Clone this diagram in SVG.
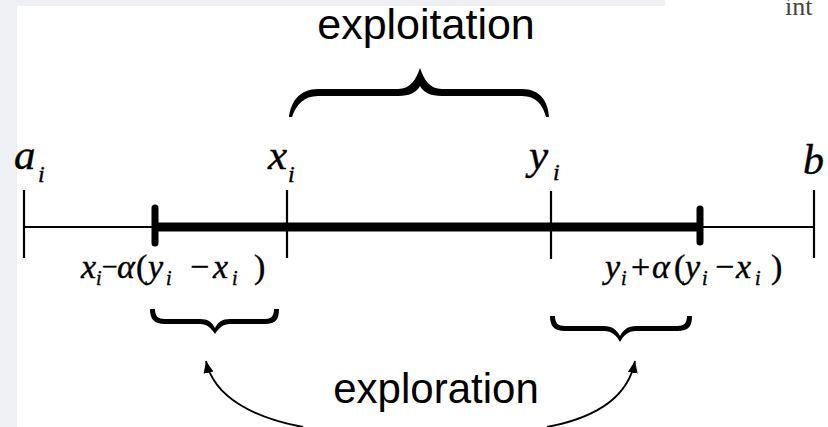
<svg xmlns="http://www.w3.org/2000/svg" width="828" height="427" viewBox="0 0 828 427">
<defs>
<style>
.m{font-family:"Liberation Serif","Times New Roman",serif;font-style:italic;fill:#000;stroke:#000;stroke-width:0.4}
.n{font-family:"Liberation Serif","Times New Roman",serif;fill:#000;stroke:#000;stroke-width:0.4}
.s{font-family:"Liberation Sans",Arial,sans-serif;fill:#000;text-anchor:middle}
.thin{stroke:#000;stroke-width:2.2;fill:none}
.thick{stroke:#000;stroke-width:9;fill:none}
.cap{stroke:#000;stroke-width:7;stroke-linecap:round;fill:none}
.arc{stroke:#000;stroke-width:1.8;fill:none}
.brace{fill:#000}
</style>
<marker id="ah" viewBox="0 0 12 10" refX="12" refY="5" markerWidth="12" markerHeight="10" markerUnits="userSpaceOnUse" orient="auto">
<path d="M0,0 L12,5 L0,10 Z" fill="#000"/>
</marker>
</defs>
<rect x="0" y="0" width="828" height="427" fill="#eef0f3"/>
<rect x="17" y="6" width="811" height="421" fill="#ffffff"/>
<rect x="665" y="0" width="163" height="6" fill="#ffffff"/>
<text x="785" y="15" font-size="26" font-family="Liberation Serif, serif" fill="#444">int</text>

<g id="axis">
<line class="thin" x1="24" y1="227" x2="814" y2="227"/>
<line class="thick" x1="155" y1="227" x2="700" y2="227"/>
<line class="thin" x1="24" y1="190" x2="24" y2="258"/>
<line class="thin" x1="287" y1="190" x2="287" y2="258"/>
<line class="thin" x1="551" y1="191" x2="551" y2="259"/>
<line class="thin" x1="814" y1="190" x2="814" y2="258"/>
<line class="cap" x1="155" y1="208" x2="155" y2="243"/>
<line class="cap" x1="700" y1="209" x2="700" y2="242"/>
</g>

<g id="label-a">
<text class="m" x="14" y="169" font-size="43">a</text>
<text class="m" x="38" y="182" font-size="24">i</text>
</g>
<g id="label-x">
<text class="m" x="268" y="169" font-size="43">x</text>
<text class="m" x="288" y="182" font-size="24">i</text>
</g>
<g id="label-y">
<text class="m" x="529" y="169" font-size="43">y</text>
<text class="m" x="553" y="180" font-size="24">i</text>
</g>
<g id="label-b">
<text class="m" x="803" y="174" font-size="42">b</text>
</g>

<g id="formula-left">
<text class="m" x="81" y="278" font-size="34">x</text>
<text class="m" x="96" y="285" font-size="20">i</text>
<text class="n" x="102" y="276" font-size="28">−</text>
<text class="m" x="117" y="278" font-size="34">α</text>
<text class="n" x="136" y="278" font-size="34">(</text>
<text class="m" x="148" y="278" font-size="34">y</text>
<text class="m" x="166" y="285" font-size="20">i</text>
<text class="n" x="190" y="278" font-size="34">−</text>
<text class="m" x="213" y="278" font-size="34">x</text>
<text class="m" x="232" y="285" font-size="20">i</text>
<text class="n" x="254" y="278" font-size="34">)</text>
</g>

<g id="formula-right">
<text class="m" x="605" y="278" font-size="34">y</text>
<text class="m" x="621" y="285" font-size="20">i</text>
<text class="n" x="631" y="278" font-size="34">+</text>
<text class="m" x="652" y="278" font-size="34">α</text>
<text class="n" x="674" y="278" font-size="34">(</text>
<text class="m" x="685" y="278" font-size="34">y</text>
<text class="m" x="702" y="285" font-size="20">i</text>
<text class="n" x="715" y="278" font-size="34">−</text>
<text class="m" x="736" y="278" font-size="34">x</text>
<text class="m" x="755" y="285" font-size="20">i</text>
<text class="n" x="771" y="278" font-size="34">)</text>
</g>

<g id="exploitation">
<path class="brace" d="M289,117 C291,101 300,89 318,89 L398,89 C410,89 416,80 420,68 C424,80 430,89 442,89 L522,89 C540,89 548,101 549,117 L546,117 C543,105 536,96 522,96 L442,96 C430,96 423,92 420,86 C417,92 410,96 398,96 L318,96 C304,96 296,105 292,117 Z"/>
<text class="s" x="426" y="39" font-size="43">exploitation</text>
</g>

<g id="exploration">
<path class="brace" d="M150,309 L155,309 C155,316 158,319 165,319 L200,319 C208,319 212,322 215,328 C218,322 222,319 230,319 L265,319 C271,319 274,316 274,309 L279,309 C279,319 276,324 265,324 L230,324 C223,324 219,328 215,334 C211,328 207,324 200,324 L165,324 C154,324 150,319 150,309 Z"/>
<path class="brace" d="M550,316 L555,316 C555,323 558,326 565,326 L604,326 C612,326 617,330 620,336 C623,330 628,326 636,326 L677,326 C684,326 687,323 687,316 L692,316 C692,326 689,331 677,331 L636,331 C628,331 624,335 620,342 C616,335 612,331 604,331 L565,331 C554,331 550,326 550,316 Z"/>
<text class="s" x="436" y="403" font-size="42">exploration</text>
</g>

<g id="connectors">
<path class="arc" d="M303,427 C255,418 214,398 206,361" marker-end="url(#ah)"/>
<path class="arc" d="M547,427 C595,418 628,398 635,361" marker-end="url(#ah)"/>
</g>
</svg>
